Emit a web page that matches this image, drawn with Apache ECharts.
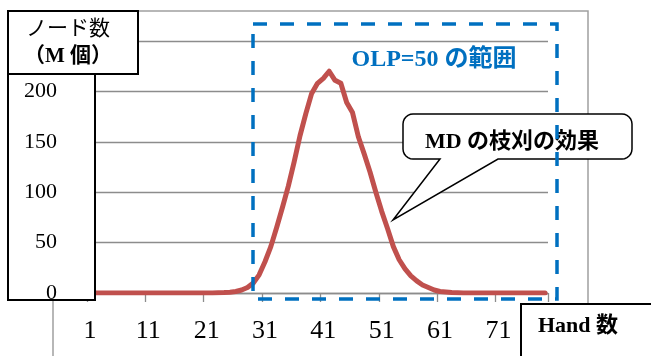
<!DOCTYPE html>
<html>
<head>
<meta charset="utf-8">
<script src="https://cdn.jsdelivr.net/npm/echarts@6/dist/echarts.min.js"></script>
<style>
html,body{margin:0;padding:0;background:#fff;}
#chart{width:651px;height:356px;}
</style>
</head>
<body>
<div id="chart"></div>
<script>
// Hand counts 1..79
const hands = [];
for (let i = 1; i <= 79; i++) hands.push(String(i));
// Node counts (M)
const nodes = [
  0,0,0,0,0,0,0,0,0,0,
  0,0,0,0,0,0,0,0,0,0,
  0,0,0.2,0.4,0.8,1.5,3,5.5,10,18,
  31,46,65,85,106,130,156,178,198,208,
  213,220,211,208,189,179,155,138,120,100,
  81,64,46,33,24,17,12,8,5.5,3,
  1.5,1,0.5,0.2,0,0,0,0,0,0,
  0,0,0,0,0,0,0,0,0
];
const yTicks = { min: 0, max: 250, interval: 50 };
const yNameLines = ['ノード数', '（M 個）'];
const xName = 'Hand 数';
const rangeLabel = 'OLP=50 の範囲';
const calloutLabel = 'MD の枝刈の効果';

// callout outline (rounded box with a wedge)
function calloutPoints(x0, y0, x1, y1, r, baseL, baseR, tipX, tipY) {
  const pts = [];
  function arc(cx, cy, a0, a1) {
    for (let k = 0; k <= 6; k++) {
      const a = a0 + (a1 - a0) * k / 6;
      pts.push([cx + r * Math.cos(a), cy + r * Math.sin(a)]);
    }
  }
  arc(x0 + r, y0 + r, Math.PI, 1.5 * Math.PI);
  arc(x1 - r, y0 + r, 1.5 * Math.PI, 2 * Math.PI);
  arc(x1 - r, y1 - r, 0, 0.5 * Math.PI);
  pts.push([baseR, y1], [tipX, tipY], [baseL, y1]);
  arc(x0 + r, y1 - r, 0.5 * Math.PI, Math.PI);
  return pts;
}

const SERIF = "'Liberation Serif','Noto Sans CJK JP',serif";
const chart = echarts.init(document.getElementById('chart'));
chart.setOption({
  animation: false,
  backgroundColor: '#fff',
  grid: { left: 87, right: 103, top: 41, bottom: 63 },
  xAxis: {
    type: 'category',
    data: hands,
    boundaryGap: true,
    axisLine: { show: true, lineStyle: { color: '#8c8c8c', width: 1.3 } },
    axisTick: { show: true, interval: 9, length: 9, lineStyle: { color: '#8c8c8c', width: 1.3 } },
    axisLabel: { interval: 9, margin: 25, color: '#000', fontSize: 26, fontFamily: SERIF }
  },
  yAxis: [
    {
      type: 'value', min: yTicks.min, max: yTicks.max, interval: yTicks.interval,
      axisLine: { show: false }, axisTick: { show: false }, axisLabel: { show: false },
      splitLine: { lineStyle: { color: '#8c8c8c', width: 1.3 } }
    },
    {
      type: 'value', min: yTicks.min, max: yTicks.max, interval: yTicks.interval,
      position: 'left', z: 10,
      axisLine: { show: false }, axisTick: { show: false }, splitLine: { show: false },
      axisLabel: { margin: 30, color: '#000', fontSize: 22, fontFamily: SERIF, showMaxLabel: false, padding: [0,0,6,0] }
    }
  ],
  series: [{
    type: 'line',
    data: nodes,
    yAxisIndex: 0,
    symbol: 'none',
    smooth: false,
    z: 2,
    lineStyle: { color: '#C0504D', width: 5, cap: 'round', join: 'round' }
  }],
  graphic: [
    { type: 'rect', z: 0, silent: true, shape: { x: 53, y: 11, width: 535, height: 420 },
      style: { fill: 'none', stroke: '#a0a0a0', lineWidth: 1.5 } },
    { type: 'rect', z: 5, silent: true, shape: { x: 8, y: 74, width: 87, height: 226 },
      style: { fill: '#fff', stroke: '#000', lineWidth: 2 } },
    { type: 'polygon', z: 6, silent: true,
      shape: { points: calloutPoints(403, 114, 632, 159, 10, 440, 498, 393, 220) },
      style: { fill: '#fff', stroke: '#000', lineWidth: 1.5 } },
    { type: 'text', z: 7, silent: true, x: 512, y: 142,
      style: { text: calloutLabel, fill: '#000', fontSize: 22, fontWeight: 'bold', fontFamily: SERIF, align: 'center', verticalAlign: 'middle' } },
    { type: 'rect', z: 8, silent: true, shape: { x: 253, y: 24, width: 304, height: 275 },
      style: { fill: 'none', stroke: '#0070C0', lineWidth: 3.5, lineDash: [14, 13] } },
    { type: 'text', z: 8, silent: true, x: 434, y: 60,
      style: { text: rangeLabel, fill: '#0070C0', fontSize: 24, fontWeight: 'bold', fontFamily: SERIF, align: 'center', verticalAlign: 'middle' } },
    { type: 'rect', z: 20, silent: true, shape: { x: 8, y: 11, width: 130, height: 63 },
      style: { fill: '#fff', stroke: '#000', lineWidth: 2 } },
    { type: 'text', z: 21, silent: true, x: 68, y: 43,
      style: {
        text: '{a|' + yNameLines[0] + '}\n{b|' + yNameLines[1] + '}',
        align: 'center', verticalAlign: 'middle',
        rich: {
          a: { fontSize: 21, fontFamily: SERIF, fill: '#000', lineHeight: 27, align: 'center' },
          b: { fontSize: 21, fontWeight: 'bold', fontFamily: SERIF, fill: '#000', lineHeight: 27, align: 'center' }
        }
      } },
    { type: 'rect', z: 20, silent: true, shape: { x: 521, y: 304, width: 160, height: 80 },
      style: { fill: '#fff', stroke: '#000', lineWidth: 2 } },
    { type: 'text', z: 21, silent: true, x: 538, y: 326,
      style: { text: xName, fill: '#000', fontSize: 22, fontWeight: 'bold', fontFamily: SERIF, align: 'left', verticalAlign: 'middle' } }
  ]
});
</script>
</body>
</html>
